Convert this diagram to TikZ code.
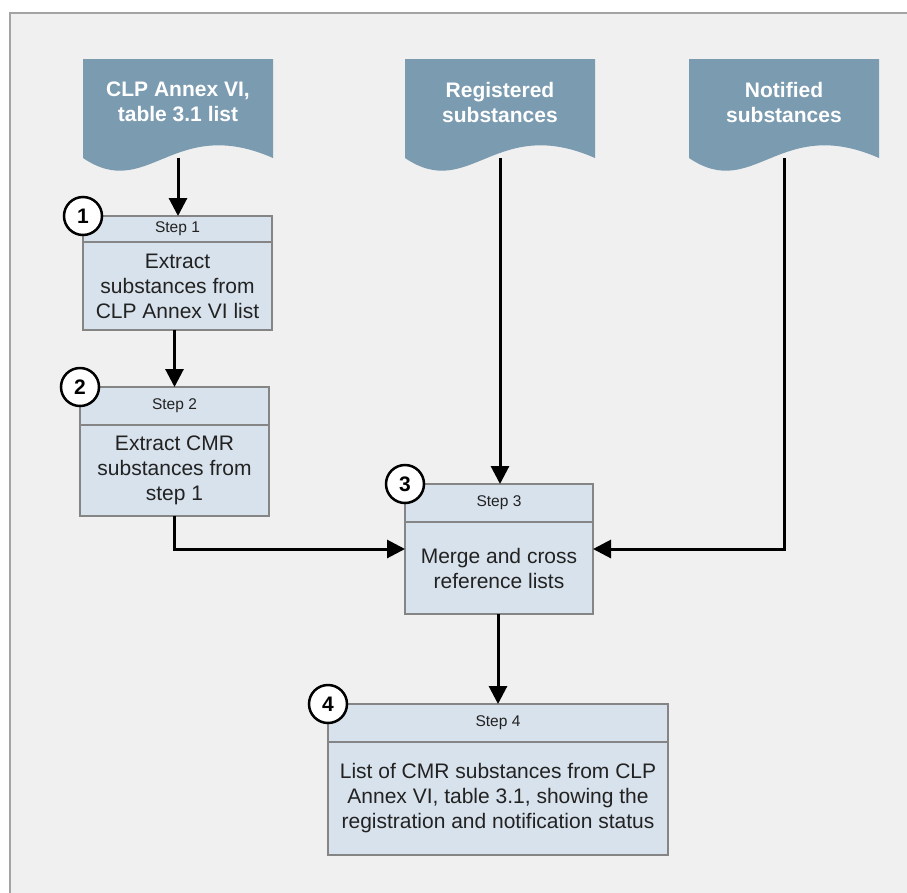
\documentclass[tikz,border=0pt]{standalone}
\usepackage{fontspec}
\setmainfont{Liberation Sans}
\usetikzlibrary{arrows.meta,positioning,calc}
\definecolor{panel}{HTML}{F0F0F0}
\definecolor{frame}{HTML}{A3A3A3}
\definecolor{docfill}{HTML}{7B9BB1}
\definecolor{boxfill}{HTML}{D8E2EC}
\definecolor{boxline}{HTML}{858585}
\definecolor{ink}{HTML}{222222}
\tikzset{
  doc/.style={align=center, inner sep=0pt, text=white,
              font=\fontsize{21}{25}\selectfont\bfseries},
  stephead/.style={draw=boxline, fill=boxfill, line width=1.5pt, outer sep=0pt,
                   inner sep=0pt, text=ink, font=\fontsize{15.5}{18}\selectfont},
  stepbody/.style={stephead, align=center, font=\fontsize{21}{25}\selectfont},
  num/.style={circle, draw=black, fill=white, line width=2.5pt, minimum size=38pt,
              inner sep=0pt, font=\fontsize{21}{21}\selectfont\bfseries},
  ar/.style={-{Triangle[length=18pt,width=18pt]}, line width=3pt, draw=black}
}
\begin{document}
\begin{tikzpicture}[x=1pt,y=-1pt]
  \useasboundingbox (0,0) rectangle (907,892);

  % panel
  \fill[panel] (10,13) rectangle (920,900);
  \draw[frame, line width=2pt] (10,900) -- (10,13) -- (920,13);

  % source lists
  \foreach \i/\x/\t in {1/178/{CLP Annex VI,\\table 3.1 list}, 2/500/{Registered\\substances}, 3/784/{Notified\\substances}} {
     \fill[docfill] (\x-95,59) -- (\x-95,158)
        .. controls (\x-30,202) and (\x-5,114) .. (\x+95,158) -- (\x+95,59) -- cycle;
     \node[doc] (doc\i) at (\x,102) {\t};
     \coordinate (doc\i-out) at (\x,158);
  }

  % steps
  \node[stephead, minimum width=189pt, minimum height=26pt] (s1h) at (177.5,229) {Step 1};
  \node[stepbody, minimum width=189pt, minimum height=88pt, below=0pt of s1h] (s1)
      {Extract\\substances from\\CLP Annex VI list};
  \node[stephead, minimum width=189pt, minimum height=38pt] (s2h) at (174.5,406) {Step 2};
  \node[stepbody, minimum width=189pt, minimum height=91pt, below=0pt of s2h] (s2)
      {Extract CMR\\substances from\\step 1};
  \node[stephead, minimum width=188pt, minimum height=38pt] (s3h) at (499,503) {Step 3};
  \node[stepbody, minimum width=188pt, minimum height=92pt, below=0pt of s3h] (s3)
      {Merge and cross\\reference lists};
  \node[stephead, minimum width=340pt, minimum height=38pt] (s4h) at (498,723) {Step 4};
  \node[stepbody, minimum width=340pt, minimum height=113pt, below=0pt of s4h] (s4)
      {List of CMR substances from CLP\\Annex VI, table 3.1, showing the\\registration and notification status};

  \foreach \i in {1,2,3,4} {
     \node[num] (n\i) at (s\i h.north west) {\i};
  }

  % flow
  \draw[ar] (doc1-out) -- (doc1-out |- s1h.north);
  \draw[ar] (s1.south -| s2h.north) -- (s2h.north);
  \draw[ar] (doc2-out) -- (doc2-out |- s3h.north);
  \draw[ar] (s2.south) |- ([yshift=19pt]s3.west);
  \draw[ar] (doc3-out) |- ([yshift=19pt]s3.east);
  \draw[ar] (s3.south -| s4h.north) -- (s4h.north);
\end{tikzpicture}
\end{document}
